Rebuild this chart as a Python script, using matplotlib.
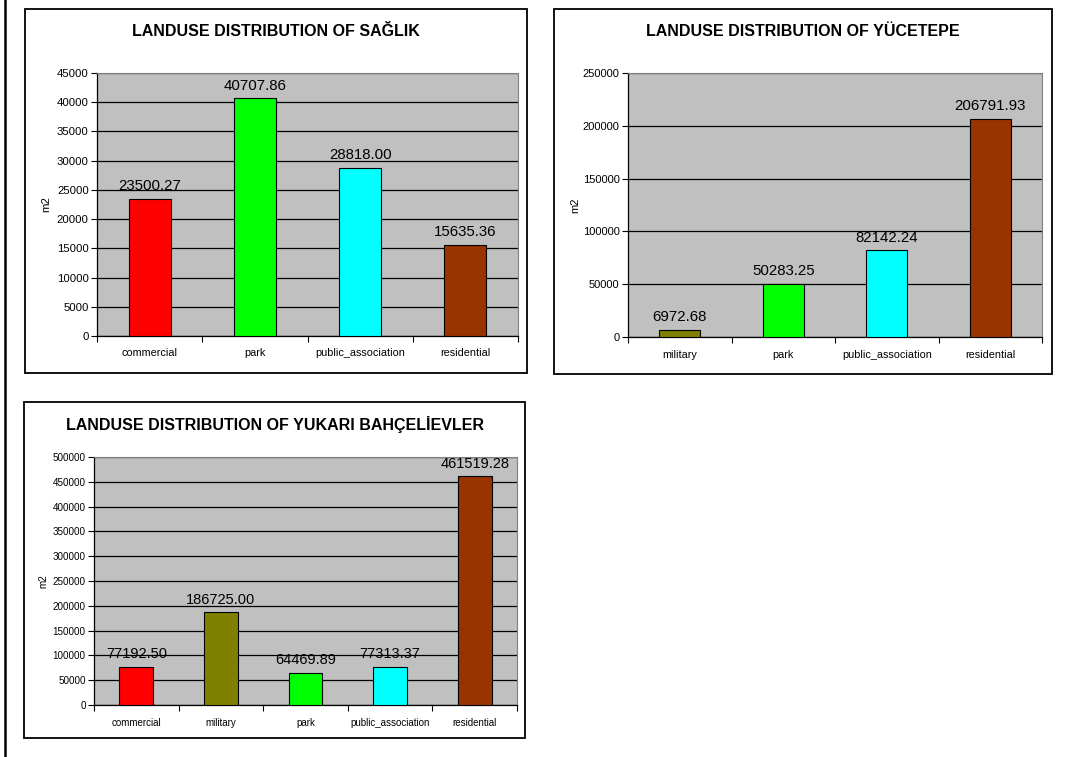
import matplotlib
matplotlib.use('Agg')
import matplotlib.pyplot as plt
from matplotlib.patches import Rectangle
from matplotlib.lines import Line2D

plt.rcParams['font.family'] = ['Liberation Sans', 'DejaVu Sans']

W, H = 1085, 757

# data
saglik_cats = ['commercial', 'park', 'public_association', 'residential']
saglik_vals = [23500.27, 40707.86, 28818.00, 15635.36]

yucetepe_cats = ['military', 'park', 'public_association', 'residential']
yucetepe_vals = [6972.68, 50283.25, 82142.24, 206791.93]

bahce_cats = ['commercial', 'military', 'park', 'public_association', 'residential']
bahce_vals = [77192.50, 186725.00, 64469.89, 77313.37, 461519.28]

colors = {
    'commercial': '#FF0000',
    'military': '#808000',
    'park': '#00FF00',
    'public_association': '#00FFFF',
    'residential': '#993300',
}


def px_rect(x0, y0, x1, y1):
    return [x0 / W, 1 - y1 / H, (x1 - x0) / W, (y1 - y0) / H]


def chart(fig, box, plot, title, cats, vals, ymax, ystep,
          tick_fs, lab_fs, val_fs, ylab_x):
    bx0, by0, bx1, by1 = box
    fig.patches.append(Rectangle((bx0 / W, 1 - by1 / H), (bx1 - bx0) / W,
                                 (by1 - by0) / H, transform=fig.transFigure,
                                 facecolor='white', edgecolor='black',
                                 linewidth=1.3, zorder=-1))
    fig.text((bx0 + bx1) / 2 / W, 1 - (by0 + 22) / H, title,
             ha='center', va='center', fontsize=11.5, fontweight='bold')

    ax = fig.add_axes(px_rect(*plot))
    ax.set_zorder(2)
    ax.set_facecolor('#C0C0C0')
    x = list(range(len(cats)))
    ax.bar(x, vals, width=0.4, color=[colors[c] for c in cats],
           edgecolor='black', linewidth=0.8, zorder=3)
    for xi, v in zip(x, vals):
        ax.annotate('%.2f' % v, (xi, v), xytext=(0, 4),
                    textcoords='offset points', ha='center', va='bottom',
                    fontsize=val_fs, zorder=4, annotation_clip=False)
    ax.set_xlim(-0.5, len(cats) - 0.5)
    ax.set_ylim(0, ymax)
    ax.set_yticks(range(0, ymax + 1, ystep))
    ax.yaxis.grid(True, color='black', linewidth=0.9)
    ax.set_axisbelow(True)
    ax.set_xticks([i - 0.5 for i in range(len(cats) + 1)])
    ax.set_xticklabels([])
    ax.set_xticks(x, minor=True)
    ax.set_xticklabels(cats, minor=True, fontsize=lab_fs)
    ax.tick_params(axis='x', which='minor', length=0, pad=9)
    ax.tick_params(axis='x', which='major', length=4, direction='out',
                   width=0.8)
    ax.tick_params(axis='y', length=4, width=0.8, labelsize=tick_fs, pad=2)
    for s in ['top', 'right']:
        ax.spines[s].set_color('#808080')
        ax.spines[s].set_linewidth(0.8)
    for s in ['left', 'bottom']:
        ax.spines[s].set_color('black')
        ax.spines[s].set_linewidth(0.9)
    fig.text(ylab_x / W, 1 - (plot[1] + plot[3]) / 2 / H, 'm2', rotation=90,
             ha='center', va='center', fontsize=tick_fs)
    return ax


fig = plt.figure(figsize=(W / 100, H / 100), dpi=100)

chart(fig, (25, 9, 527, 373), (97, 73, 518, 336),
      'LANDUSE DISTRIBUTION OF SAĞLIK', saglik_cats, saglik_vals,
      45000, 5000, 8.2, 7.8, 10.8, 46)
chart(fig, (554, 9, 1052, 374), (628, 73, 1042, 337),
      'LANDUSE DISTRIBUTION OF YÜCETEPE', yucetepe_cats, yucetepe_vals,
      250000, 50000, 8.0, 7.8, 10.8, 575)
chart(fig, (24, 402, 525, 738), (94, 457, 517, 705),
      'LANDUSE DISTRIBUTION OF YUKARI BAHÇELİEVLER', bahce_cats, bahce_vals,
      500000, 50000, 7.1, 7.0, 10.5, 43)

fig.lines.append(Line2D([5 / W, 5 / W], [0, 1], transform=fig.transFigure,
                        color='black', linewidth=1.8))

fig.savefig('out.png', dpi=100, facecolor='white')
